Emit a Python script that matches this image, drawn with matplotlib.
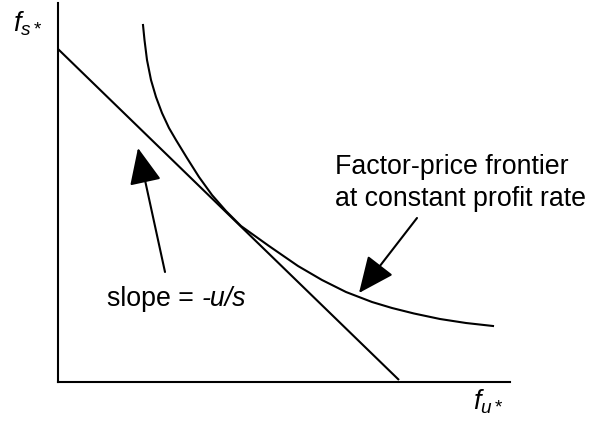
import matplotlib
matplotlib.use("Agg")
import matplotlib.pyplot as plt

plt.rcParams['font.family'] = ['Liberation Sans', 'DejaVu Sans']
plt.rcParams['mathtext.fontset'] = 'custom'
plt.rcParams['mathtext.rm'] = 'Liberation Sans'
plt.rcParams['mathtext.it'] = 'Liberation Sans:italic'

# tangent line (iso-cost line), slope = -u/s
linha_fu = [0, 341]
linha_fs = [333, 2]

# factor-price frontier, points
curva_fu = [85, 86.5, 89, 93, 98, 104, 111, 118, 129, 141, 154, 168, 183, 211,
            240, 264, 288, 314, 334, 356, 382, 408, 435]
curva_fs = [357, 342, 322, 302, 285, 269, 254, 242, 224, 205, 187, 171, 156, 136,
            116, 102, 90, 80, 74, 68.5, 63, 59, 56]

# arrows: (tail, tip)
seta_slope = ((107, 110), (80, 234))
seta_frontier = ((359, 164), (301, 89))

W, H = 593, 422
fig = plt.figure(figsize=(W / 100, H / 100), dpi=100)
ax = fig.add_axes([58 / W, (H - 382) / H, (510 - 58) / W, (382 - 3) / H])
ax.set_xlim(0, 452)
ax.set_ylim(0, 379)

for lado in ['top', 'right']:
    ax.spines[lado].set_visible(False)
for lado in ['left', 'bottom']:
    ax.spines[lado].set_linewidth(1.5)
ax.set_xticks([])
ax.set_yticks([])
ax.patch.set_alpha(0)

ax.plot(linha_fu, linha_fs, color='black', linewidth=1.5, solid_capstyle='butt')
ax.plot(curva_fu, curva_fs, color='black', linewidth=1.5, solid_joinstyle='round')

for cauda, ponta in [seta_slope, seta_frontier]:
    ax.annotate('', xy=ponta, xytext=cauda,
                arrowprops=dict(arrowstyle='-|>,head_length=0.9,head_width=0.4',
                                color='black', lw=1.5, mutation_scale=25,
                                shrinkA=0, shrinkB=0))

t1 = ax.text(49, 83, 'slope = ', fontsize=19.3, ha='left', va='center')
ax.annotate('-u/s', xy=(1, 0), xycoords=t1, ha='left', va='bottom',
            fontsize=19.3, fontstyle='italic')

ax.text(277, 199, 'Factor-price frontier\nat constant profit rate',
        fontsize=19.3, ha='left', va='center', linespacing=1.33)

ax.text(-45, 350, r'$f_{s*}$', fontsize=19.5, ha='left', va='baseline', clip_on=False)
ax.text(415, -28, r'$f_{u*}$', fontsize=19.5, ha='left', va='baseline', clip_on=False)

fig.savefig('out.png', dpi=100)
